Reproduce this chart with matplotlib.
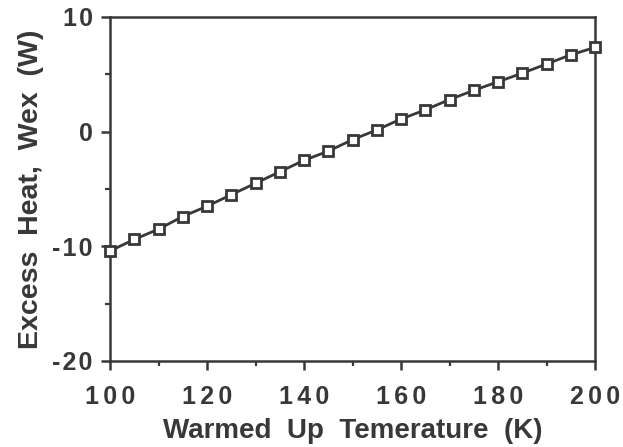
import matplotlib
matplotlib.use("Agg")
import matplotlib.pyplot as plt
from matplotlib.ticker import MultipleLocator

temperature = [100, 105, 110, 115, 120, 125, 130, 135, 140, 145, 150,
               155, 160, 165, 170, 175, 180, 185, 190, 195, 200]
excess_heat = [-10.4, -9.4, -8.5, -7.4, -6.5, -5.5, -4.5, -3.5, -2.5, -1.7, -0.7,
               0.15, 1.1, 1.9, 2.8, 3.6, 4.35, 5.1, 5.9, 6.7, 7.35]
x_ticks = [100, 120, 140, 160, 180, 200]
y_ticks = [-20, -10, 0, 10]
x_label = "Warmed Up Temerature (K)"
y_label = "Excess Heat, Wex (W)"

ink = "#383838"
plt.rcParams['font.family'] = ['Liberation Sans', 'DejaVu Sans']
plt.rcParams['font.weight'] = 'bold'

HAIR = "\u200a"


def track(s, n=1):
    return (HAIR * n).join(s)


def wide(s):
    return s.replace(" ", "  ")


fig = plt.figure(figsize=(6.23, 4.47), dpi=100)
ax = fig.add_axes([110/623, 1-361/447, (595-110)/623, (361-17)/447])

ax.plot(temperature, excess_heat, color=ink, lw=2.0, marker='s', ms=7.5,
        mfc='white', mec=ink, mew=2.0, clip_on=False, zorder=3)

ax.set_xlim(100, 200)
ax.set_ylim(-20, 10)
ax.set_xticks(x_ticks)
ax.set_yticks(y_ticks)
ax.set_xticklabels([track(str(v), 2) for v in x_ticks])
ax.set_yticklabels([track(str(v), 1) for v in y_ticks])
ax.xaxis.set_minor_locator(MultipleLocator(10))
ax.yaxis.set_minor_locator(MultipleLocator(5))

for s in ax.spines.values():
    s.set_linewidth(1.8)
    s.set_color(ink)

ax.tick_params(which='major', direction='out', length=6.5, width=1.8, color=ink,
               labelsize=18, labelcolor=ink)
ax.tick_params(axis='x', which='major', pad=11)
ax.tick_params(axis='y', which='major', pad=6)
ax.tick_params(which='minor', direction='out', length=3.5, width=1.6, color=ink)
for lab in ax.get_xticklabels() + ax.get_yticklabels():
    lab.set_fontweight('bold')

ax.set_xlabel(wide(x_label), fontsize=20, fontweight='bold',
              color=ink, labelpad=6)
ax.set_ylabel(wide(y_label), fontsize=20.5, fontweight='bold',
              color=ink, labelpad=6)

fig.savefig("out.png", dpi=100)
